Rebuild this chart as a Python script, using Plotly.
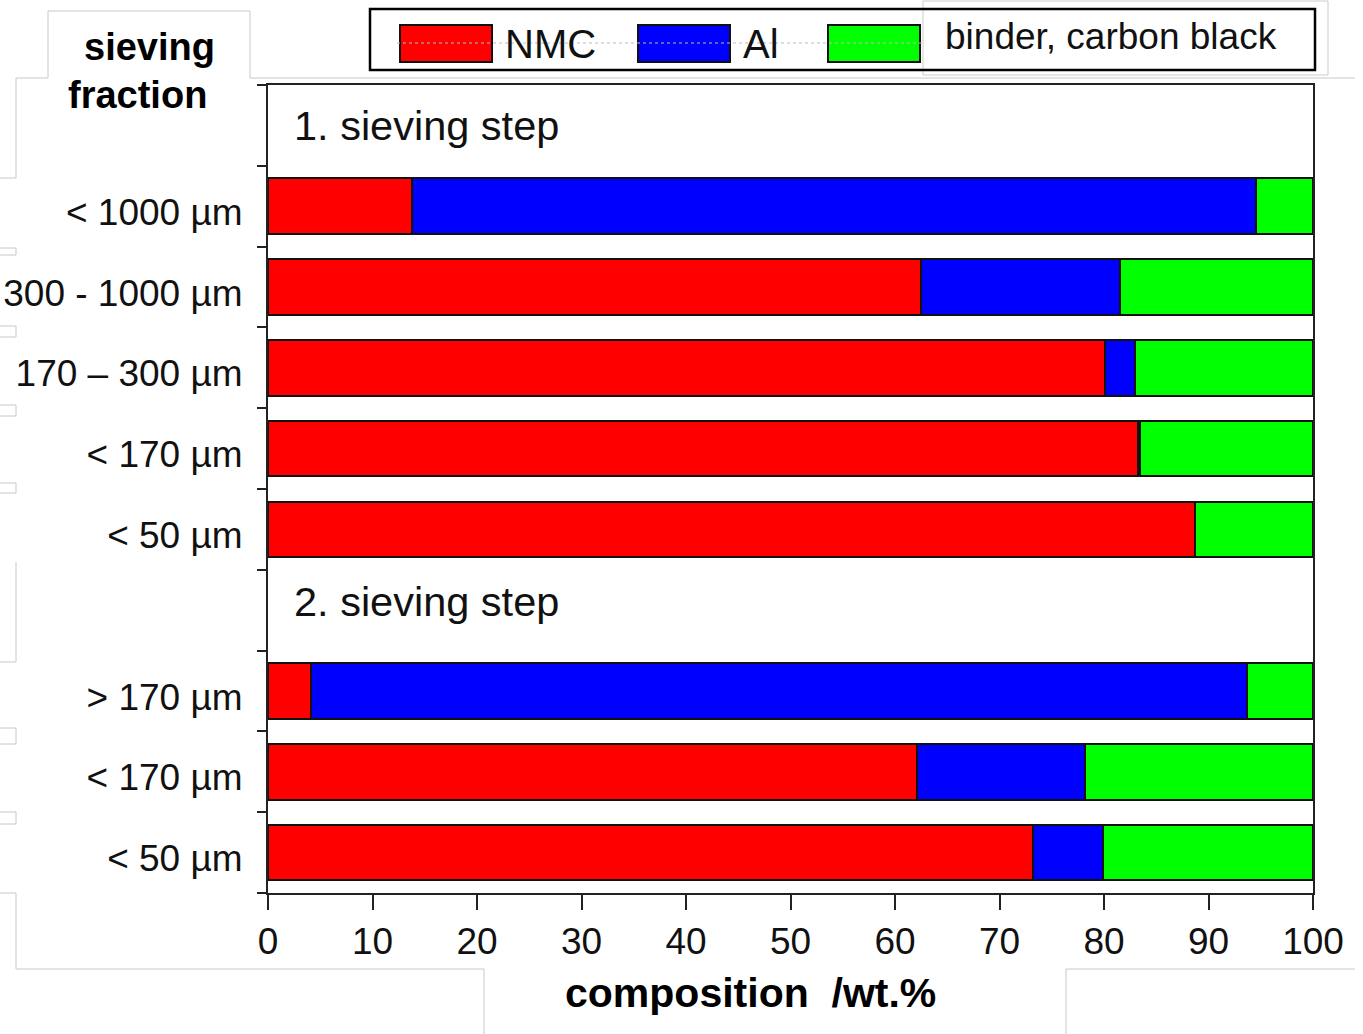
import plotly.graph_objects as go

# ---------------- data ----------------
rows = ["1. sieving step", "< 1000 µm", "300 - 1000 µm", "170 – 300 µm", "< 170 µm",
        "< 50 µm", "2. sieving step", "> 170 µm", "< 170 µm", "< 50 µm"]
is_header = [True, False, False, False, False, False, True, False, False, False]
nmc = [None, 13.8, 62.5, 80.1, 83.3, 88.7, None, 4.1, 62.1, 73.2]
al = [None, 80.7, 19.0, 2.9, 0.15, 0.0, None, 89.6, 16.1, 6.7]
binder = [None, 5.5, 18.5, 17.0, 16.55, 11.3, None, 6.3, 21.8, 20.1]
series_names = ["NMC", "Al", "binder, carbon black"]
series_colors = ["#ff0000", "#0000ff", "#00ff00"]
x_ticks = [0, 10, 20, 30, 40, 50, 60, 70, 80, 90, 100]

W, H = 1363, 1034
L, R, T, B = 268, 50, 85, 141
PW, PH = W - L - R, H - T - B
FONT = "Arial, 'Liberation Sans', sans-serif"
LABEL_DROP = 0.07  # category labels sit slightly below bar centres in the original


def px(x):
    return (x - L) / PW


def py(y):
    return (H - B - y) / PH


ypos = [i + 0.5 for i in range(len(rows))]
bar_y = [ypos[i] for i in range(len(rows)) if not is_header[i]]

fig = go.Figure()
for name, vals, col in zip(series_names, [nmc, al, binder], series_colors):
    fig.add_trace(go.Bar(
        y=bar_y,
        x=[v for v, h in zip(vals, is_header) if not h],
        orientation="h", name=name, width=0.69,
        marker=dict(color=col, line=dict(color="#111111", width=2)),
        showlegend=False,
    ))

shapes = []
annotations = []

# faint grey frame artifacts from the original composite picture
grey = dict(color="#c8c8c8", width=1)
path_lines = [
    [(48, 78), (48, 11), (250, 11), (250, 78), (1355, 78)],
    [(16, 78), (48, 78)],
    [(16, 78), (16, 178), (0, 178)],
    [(16, 562), (16, 662), (0, 662)],
    [(0, 893), (16, 893), (16, 969), (484, 969), (484, 1034)],
    [(1066, 1034), (1066, 969), (1355, 969)],
]
for pts in path_lines:
    for (x0, y0), (x1, y1) in zip(pts[:-1], pts[1:]):
        shapes.append(dict(type="line", xref="paper", yref="paper",
                           x0=px(x0), y0=py(y0), x1=px(x1), y1=py(y1),
                           line=grey, layer="below"))
for (ya, yb) in [(248, 255), (326, 337), (405, 416), (483, 493), (728, 744), (812, 824)]:
    shapes.append(dict(type="rect", xref="paper", yref="paper",
                       x0=px(-2), x1=px(16), y0=py(ya), y1=py(yb),
                       line=grey, fillcolor="rgba(0,0,0,0)", layer="below"))

# legend (custom drawn)
sw_x = [400, 638, 828]
txt_x = [503, 741, 943]
for i, (name, col) in enumerate(zip(series_names, series_colors)):
    shapes.append(dict(type="rect", xref="paper", yref="paper",
                       x0=px(sw_x[i]), x1=px(sw_x[i] + 92), y0=py(62), y1=py(25),
                       fillcolor=col, line=dict(color="#111111", width=2), layer="below"))
shapes.append(dict(type="line", xref="paper", yref="paper", x0=px(397), x1=px(922),
                   y0=py(43), y1=py(43), line=dict(color="#bbbbbb", width=1, dash="dot")))
shapes.append(dict(type="rect", xref="paper", yref="paper", x0=px(923), x1=px(1328),
                   y0=py(75), y1=py(1), fillcolor="white", line=dict(color="#cccccc", width=1)))
shapes.append(dict(type="rect", xref="paper", yref="paper", x0=px(370), x1=px(1315),
                   y0=py(70), y1=py(9), fillcolor="rgba(0,0,0,0)",
                   line=dict(color="#000000", width=2.5)))
for i, name in enumerate(series_names):
    big = i < 2
    annotations.append(dict(xref="paper", yref="paper", x=px(txt_x[i]),
                            y=py(44 if big else 36), text=name, showarrow=False,
                            xanchor="left", yanchor="middle",
                            font=dict(family=FONT, size=40 if big else 37, color="#111111")))

# group headers inside plot
for i, (lab, h) in enumerate(zip(rows, is_header)):
    if h:
        annotations.append(dict(x=2.3, y=ypos[i], xref="x", yref="y", text=lab,
                                showarrow=False, xanchor="left", yanchor="middle",
                                yshift=(0 if i == 0 else 9),
                                font=dict(family=FONT, size=41.5, color="#111111")))

# y-axis title
annotations.append(dict(xref="paper", yref="paper", x=px(149), y=py(47), text="<b>sieving</b>",
                        xanchor="center", yanchor="middle",
                        showarrow=False, font=dict(family=FONT, size=38, color="#000000")))
annotations.append(dict(xref="paper", yref="paper", x=px(137), y=py(95), text="<b>fraction</b>",
                        xanchor="center", yanchor="middle",
                        showarrow=False, font=dict(family=FONT, size=38, color="#000000")))
# x-axis title
annotations.append(dict(xref="paper", yref="paper", x=px(750), y=py(993),
                        xanchor="center", yanchor="middle",
                        text="<b>composition  /wt.%</b>", showarrow=False,
                        font=dict(family=FONT, size=41, color="#000000")))

fig.update_layout(
    width=W, height=H,
    margin=dict(l=L, r=R, t=T, b=B, pad=0, autoexpand=False),
    paper_bgcolor="white", plot_bgcolor="white",
    barmode="stack", bargap=0.3,
    shapes=shapes, annotations=annotations,
    xaxis=dict(range=[0, 100], tickvals=x_ticks, ticktext=[str(v) for v in x_ticks],
               ticks="outside", ticklen=15, tickwidth=2, tickcolor="#222222",
               showline=True, linecolor="#222222", linewidth=2, mirror=True,
               showgrid=False, zeroline=False, automargin=False,
               tickfont=dict(family=FONT, size=37, color="#111111")),
    yaxis=dict(range=[10, 0],
               tickvals=[ypos[i] + LABEL_DROP for i in range(len(rows)) if not is_header[i]],
               ticktext=[rows[i] for i in range(len(rows)) if not is_header[i]],
               ticks="", ticklabelstandoff=16, automargin=False,
               minor=dict(ticks="outside", ticklen=9, tickwidth=2, tickcolor="#222222",
                          tick0=0, dtick=1, showgrid=False),
               showline=True, linecolor="#222222", linewidth=2, mirror=True,
               showgrid=False, zeroline=False,
               tickfont=dict(family=FONT, size=37, color="#111111")),
)

fig.write_html("out.html", config={"displayModeBar": False},
               post_script="document.body.style.margin='0';document.body.style.overflow='hidden';")
